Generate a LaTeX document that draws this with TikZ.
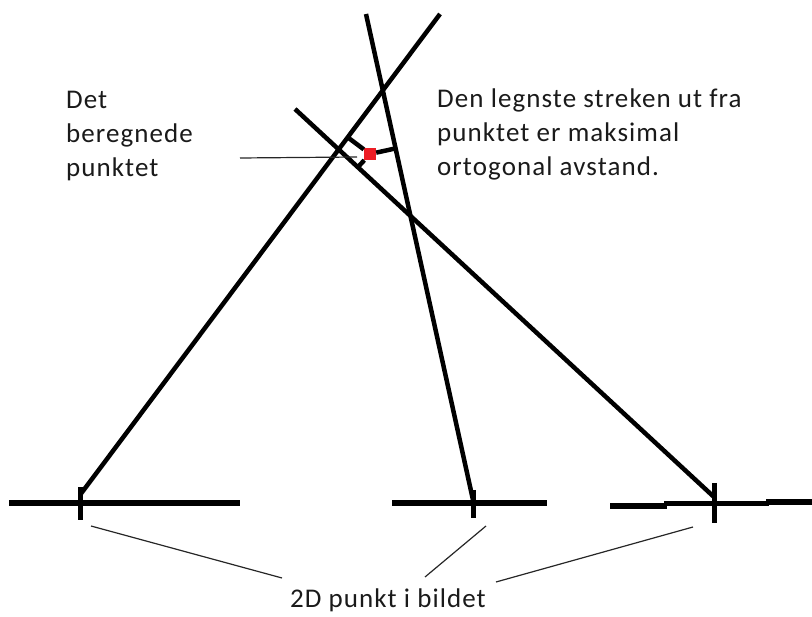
\documentclass[tikz,border=0pt]{standalone}
\usepackage{fontspec}
\newfontfamily\lblfont{Carlito}[LetterSpace=4]
\usetikzlibrary{calc}
\definecolor{ink}{HTML}{000000}
\definecolor{txt}{HTML}{1A1A1A}
\definecolor{mark}{HTML}{ED1C24}
\tikzset{
  rayline/.style={line width=4.5pt, draw=ink},
  groundline/.style={line width=5.5pt, draw=ink},
  tickline/.style={line width=5pt, draw=ink},
  leader/.style={line width=1.2pt, draw=ink!85},
  lbl/.style={font=\lblfont\fontsize{27}{34}\selectfont, text=txt, inner sep=0pt, align=left},
  ptmark/.style={rectangle, fill=mark, minimum size=12pt, inner sep=0pt}
}

\begin{document}
\begin{tikzpicture}[x=1pt, y=-1pt]
  \useasboundingbox (0,0) rectangle (812,617);

  % ---- Image points and far ends of the rays ------------------------------
  \coordinate (p1) at (80,495);
  \coordinate (p2) at (473,500);
  \coordinate (p3) at (714,497);
  \coordinate (e1) at (440,14);
  \coordinate (e2) at (366,14);
  \coordinate (e3) at (295,109);

  % ---- Ground lines --------------------------------------------------------
  \draw[groundline] (9,503) -- (240,503);
  \draw[groundline] (392,503) -- (547,503);
  \draw[groundline] (610,506) -- (667,506);
  \draw[groundline] (664,503.5) -- (769,503.5);
  \draw[groundline] (766,502) -- (812,502);

  % ---- Ticks ---------------------------------------------------------------
  \draw[tickline] (80,487) -- (80,520);
  \draw[tickline] (473,490) -- (473,518);
  \draw[tickline] (714,483) -- (714,523);

  % ---- Rays ----------------------------------------------------------------
  \draw[rayline] (p1) -- (e1);
  \draw[rayline] (p2) -- (e2);
  \draw[rayline] (p3) -- (e3);

  % ---- Computed point, with its perpendiculars -----------------------------
  \node[ptmark] (pkt) at (370,154) {};
  \draw[rayline] (pkt) -- ($(p1)!(pkt)!(e1)$);
  \draw[rayline] (pkt) -- ($(p2)!(pkt)!(e2)$);
  \draw[rayline] (pkt) -- ($(p3)!(pkt)!(e3)$);

  % ---- Labels --------------------------------------------------------------
  \node[lbl, anchor=north west] (det) at (66,91) {Det\\beregnede\\punktet};
  \node[lbl, anchor=north west] (den) at (437,89)
        {Den legnste streken ut fra\\punktet er maksimal\\ortogonal avstand.};
  \node[lbl, anchor=base] (bilde) at (388,607) {2D punkt i bildet};

  % ---- Leaders -------------------------------------------------------------
  \coordinate (l0a) at (240,158);
  \coordinate (l0b) at (357,157);
  \draw[leader] (l0a) -- (l0b);
  \coordinate (l1a) at (91,526);
  \coordinate (l1b) at (282,578);
  \coordinate (l2a) at (486,526);
  \coordinate (l2b) at (425,577);
  \coordinate (l3a) at (693,527);
  \coordinate (l3b) at (496,582);
  \draw[leader] (l1a) -- (l1b);
  \draw[leader] (l2a) -- (l2b);
  \draw[leader] (l3a) -- (l3b);

\end{tikzpicture}
\end{document}
